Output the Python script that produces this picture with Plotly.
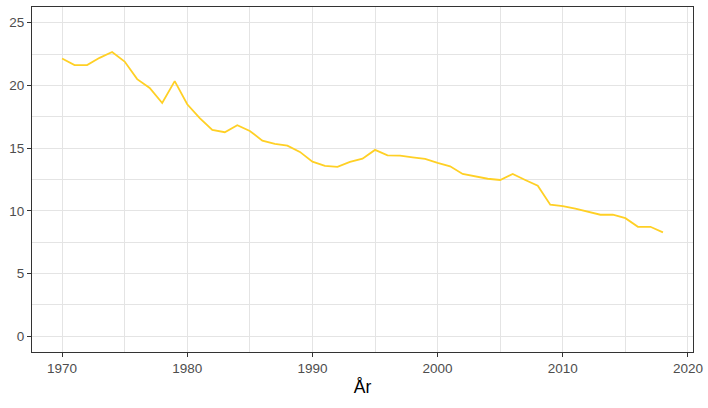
import plotly.graph_objects as go

years = list(range(1970, 2019))
values = [22.15, 21.62, 21.62, 22.2, 22.66, 21.9, 20.5, 19.8, 18.6, 20.34,
          18.5, 17.4, 16.45, 16.27, 16.83, 16.37, 15.6, 15.34, 15.2, 14.7,
          13.92, 13.58, 13.5, 13.9, 14.16, 14.86, 14.43, 14.4, 14.27, 14.14,
          13.82, 13.55, 12.94, 12.72, 12.56, 12.46, 12.94, 12.46, 12.0, 10.49,
          10.38, 10.17, 9.9, 9.69, 9.69, 9.42, 8.73, 8.73, 8.28]

x_ticks = [1970, 1980, 1990, 2000, 2010, 2020]
x_minor = [1975, 1985, 1995, 2005, 2015]
y_ticks = [0, 5, 10, 15, 20, 25]
y_minor = [2.5, 7.5, 12.5, 17.5, 22.5]

fig = go.Figure()
fig.add_trace(go.Scatter(x=years, y=values, mode="lines",
                         line=dict(color="#FFD025", width=1.8),
                         showlegend=False, hoverinfo="x+y"))

grid = "#E4E4E4"
fig.update_layout(
    width=708, height=408,
    margin=dict(l=32, r=15, t=7, b=56, autoexpand=False),
    paper_bgcolor="white", plot_bgcolor="white",
    font=dict(family="Liberation Sans, Arial, sans-serif", size=13.5, color="#4D4D4D"),
    xaxis=dict(
        range=[1967.6, 2020.4], tickvals=x_ticks, automargin=False,
        showgrid=True, gridcolor=grid, gridwidth=1.3,
        minor=dict(tickvals=x_minor, showgrid=True,
                   gridcolor=grid, gridwidth=1.3, ticks=""),
        ticks="outside", ticklen=4, tickcolor="#333333", tickwidth=1,
        showline=True, linecolor="#333333", linewidth=1, mirror=True,
        zeroline=False,
        title=dict(text="År", font=dict(size=17.5, color="#000000"), standoff=5),
    ),
    yaxis=dict(
        range=[-1.25, 26.25], tickvals=y_ticks, automargin=False,
        showgrid=True, gridcolor=grid, gridwidth=1.3,
        minor=dict(tickvals=y_minor, showgrid=True,
                   gridcolor=grid, gridwidth=1.3, ticks=""),
        ticks="outside", ticklen=4, tickcolor="#333333", tickwidth=1,
        showline=True, linecolor="#333333", linewidth=1, mirror=True,
        zeroline=False,
    ),
)

fig.write_html("out.html", config={"displayModeBar": False},
               post_script="document.body.style.margin='0px';document.body.style.overflow='hidden';")
